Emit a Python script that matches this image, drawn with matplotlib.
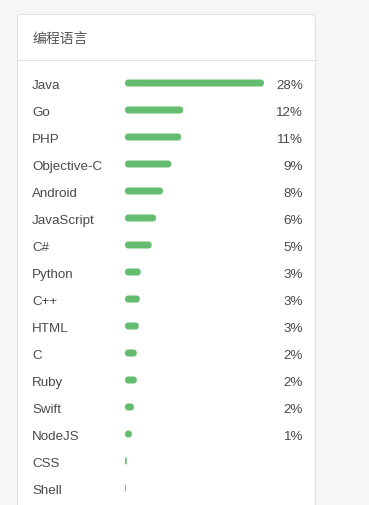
import matplotlib
matplotlib.use('Agg')
import matplotlib.pyplot as plt
from matplotlib.patches import FancyBboxPatch
from matplotlib.transforms import blended_transform_factory

plt.rcParams['font.family'] = ['Liberation Sans', 'Noto Sans CJK SC', 'DejaVu Sans']

title = '编程语言'
languages = ['Java', 'Go', 'PHP', 'Objective-C', 'Android', 'JavaScript', 'C#',
             'Python', 'C++', 'HTML', 'C', 'Ruby', 'Swift', 'NodeJS', 'CSS', 'Shell']
shares = [28.2, 11.8, 11.4, 9.4, 7.7, 6.3, 5.4, 3.2, 3.0, 2.8, 2.4, 2.4, 1.8, 1.4, 0.35, 0.2]
share_labels = ['28%', '12%', '11%', '9%', '8%', '6%', '5%', '3%', '3%', '3%',
                '2%', '2%', '2%', '1%', '', '']

W, H = 369, 506
fig = plt.figure(figsize=(W / 100, H / 100), dpi=100)
fig.patch.set_facecolor('#f6f6f6')

# pixel-coordinate background axes for the card
bg = fig.add_axes([0, 0, 1, 1])
bg.set_xlim(0, W)
bg.set_ylim(H, 0)
bg.axis('off')
card = FancyBboxPatch((17.5, 15.5), 298, 540, boxstyle='round,pad=0,rounding_size=4',
                      fc='white', ec='#e2e2e2', lw=0.8)
bg.add_patch(card)
bg.plot([17.5, 315.5], [60.5, 60.5], color='#e2e2e2', lw=0.8)
bg.text(33, 39, title, fontsize=10, color='#555555', va='center', ha='left',
        family=['Noto Sans CJK SC', 'DejaVu Sans'])

# bar axes: row i centred at y = 84 + 27 i px, bars from x = 125 px
top, row_h = 70.5, 27
n = len(languages)
ax = fig.add_axes([125 / W, 1 - (top + n * row_h) / H, 139 / W, n * row_h / H])
ax.set_xlim(0, max(shares))
ax.set_ylim(n - 0.5, -0.5)
ax.axis('off')

bar_px = 7
x_per_px = max(shares) / 139
y_per_px = 1 / row_h
aspect = y_per_px / x_per_px
bh = bar_px * y_per_px
for i, v in enumerate(shares):
    r = min(v, bar_px * x_per_px) / 2
    p = FancyBboxPatch((0, i - bh / 2), v, bh,
                       boxstyle=f'round,pad=0,rounding_size={r}',
                       mutation_aspect=aspect, fc='#64bc6e', ec='none')
    ax.add_patch(p)

tr = blended_transform_factory(bg.transData, ax.transData)
dy = 1.8 * y_per_px  # text sits a little lower than the bar centre
for i, (name, lab) in enumerate(zip(languages, share_labels)):
    ax.text(32, i + dy, name, transform=tr, fontsize=9.6, color='#4a4a4a',
            va='center', ha='left', clip_on=False)
    ax.text(303, i + dy, lab, transform=tr, fontsize=9.6, color='#4a4a4a',
            va='center', ha='right', clip_on=False)

fig.savefig('out.png', dpi=100, facecolor=fig.get_facecolor())
